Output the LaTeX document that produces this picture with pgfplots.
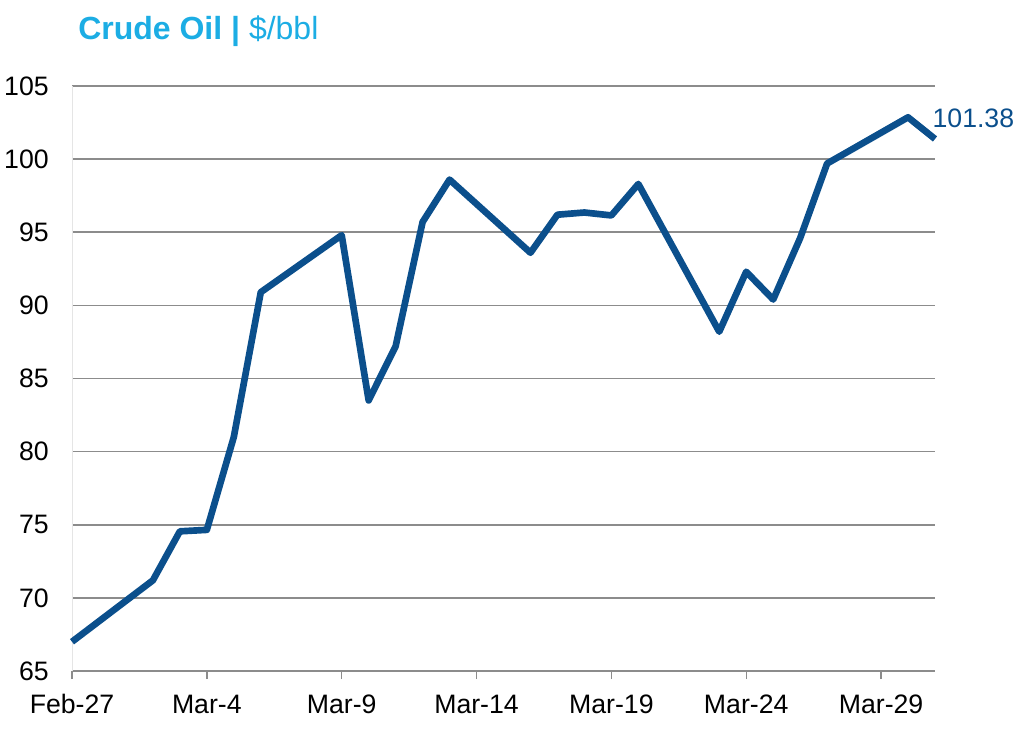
\documentclass[border=0pt]{standalone}
\usepackage{pgfplots}
\pgfplotsset{compat=1.18}
\usepackage{fontspec}
\setmainfont{Liberation Sans}
\definecolor{oil}{HTML}{0B4F8C}
\definecolor{ttl}{HTML}{1CADE4}
\definecolor{gridc}{HTML}{8C8C8C}
\begin{document}
\begin{tikzpicture}
\path[use as bounding box] (-54pt,-56.25pt) rectangle (714pt,503.25pt);
\begin{axis}[
  at={(0pt,0pt)}, anchor=south west,
  scale only axis, width=647.25pt, height=438.75pt,
  xmin=0, xmax=32, ymin=65, ymax=105,
  xtick={0,5,...,30},
  xticklabels={Feb-27,Mar-4,Mar-9,Mar-14,Mar-19,Mar-24,Mar-29},
  ytick={65,70,...,105},
  ymajorgrids, grid style={gridc, line width=1.2pt},
  axis x line*=bottom, axis y line*=left,
  x axis line style={gridc, line width=1.5pt, -},
  y axis line style={black!10, line width=0.6pt, -},
  xtick style={gridc, line width=1pt},
  ytick style={draw=none},
  tick align=outside, major tick length=6pt,
  tick label style={font=\fontsize{20}{24}\selectfont, text=black},
  xticklabel style={anchor=base, inner sep=0pt, yshift=-25.5pt},
  yticklabel style={anchor=east, inner sep=0pt, xshift=-11.25pt},
  /pgf/number format/assume math mode=true,
  clip=false,
]
\addplot[oil, line width=5pt, line join=round] coordinates {
(0,67.0) (3,71.2) (4,74.55) (5,74.65) (6,81.0) (7,90.9) (10,94.8) (11,83.5)
(12,87.2) (13,95.7) (14,98.6) (17,93.6) (18,96.2) (19,96.35) (20,96.15)
(21,98.3) (24,88.2) (25,92.3) (26,90.4) (27,94.6) (28,99.7) (31,102.86) (32,101.38)
};
\node[anchor=base west, text=oil, font=\fontsize{20}{24}\selectfont, inner sep=0pt, xshift=-2pt, yshift=8.25pt] at (axis cs:32,101.38) {101.38};
\end{axis}
\node[anchor=base west, text=ttl, font=\fontsize{24}{28}\selectfont, inner sep=0pt] at (4.5pt,473.25pt) {\textbf{Crude Oil |} \$/bbl};
\end{tikzpicture}
\end{document}
